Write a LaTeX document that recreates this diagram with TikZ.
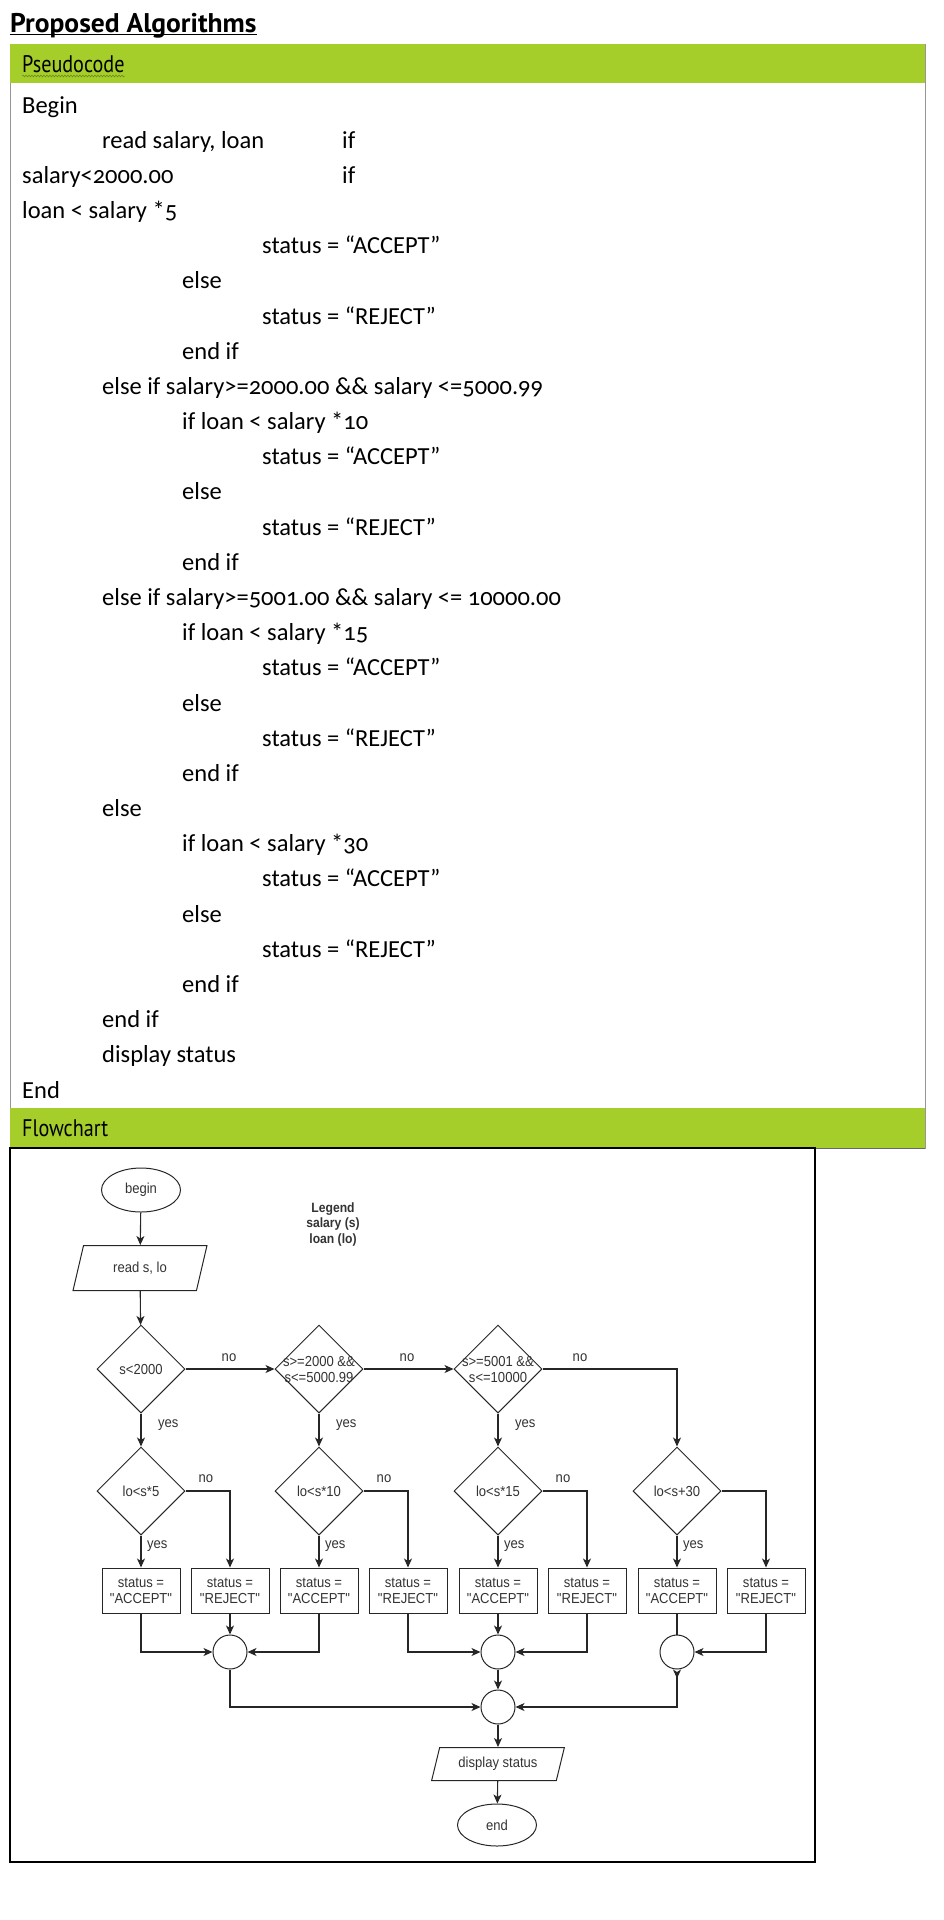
\documentclass[tikz,border=0pt]{standalone}
\usepackage{fontspec}
\usetikzlibrary{arrows.meta,shapes.geometric,decorations.pathmorphing}
\newfontfamily\codefont[Numbers=OldStyle]{Carlito}
\newfontfamily\headfont[FakeStretch=0.84]{PT Sans}
\newfontfamily\titlefont[FakeStretch=1.02]{PT Sans}
\newfontfamily\flowfont[FakeStretch=0.9]{Liberation Sans}
\definecolor{barGreen}{RGB}{166,206,42}
\definecolor{ruleGray}{RGB}{150,150,150}
\definecolor{inkGray}{RGB}{51,51,51}
\definecolor{spellOlive}{RGB}{110,140,30}

\begin{document}
\begin{tikzpicture}[
  x=1pt, y=-1pt, >={Stealth[length=9pt,width=8pt,inset=2.5pt]},
  code/.style={anchor=base west, inner sep=0pt, font=\codefont\fontsize{24.5}{29}\selectfont},
  head/.style={anchor=base west, inner sep=0pt, font=\headfont\fontsize{24}{28}\selectfont},
  flowtext/.style={font=\flowfont\fontsize{14.5}{16}\selectfont, text=inkGray},
  terminal/.style={draw=black!85, line width=1pt, ellipse, flowtext, minimum width=79pt, minimum height=44pt, inner sep=0pt},
  inout/.style={draw=black!85, line width=1pt, trapezium, trapezium stretches=true, trapezium left angle=68, trapezium right angle=112, flowtext, inner sep=0pt},
  decision/.style={draw=black!85, line width=1pt, diamond, minimum width=88pt, minimum height=88pt, inner sep=0pt},
  statebox/.style={draw=black!85, line width=1pt, flowtext, align=center, minimum width=78pt, minimum height=45pt, inner sep=0pt},
  junction/.style={draw=black!85, line width=1pt, circle, minimum size=34pt, inner sep=0pt},
  tag/.style={flowtext, inner sep=0pt},
  link/.style={->, black!85, line width=1.1pt},
  every label/.style={flowtext, align=center, inner sep=0pt},
]
\useasboundingbox (0,0) rectangle (944,1920);
% title
\node[anchor=base west, inner sep=0pt, font=\titlefont\bfseries\fontsize{27}{31}\selectfont] (title) at (10,32) {Proposed Algorithms};
\draw[line width=1.3pt] ([yshift=-2.5pt]title.base west) -- ([yshift=-2.5pt]title.base east);
% table frame and green bars
\draw[ruleGray, line width=1pt] (10,44) rectangle (925,1148);
\fill[barGreen] (10,44) rectangle (925,83);
\fill[barGreen] (10,1108) rectangle (925,1148);
\draw[ruleGray!70!black, line width=1pt] (10,1148) -- (925,1148);
\node[head] (pseudohead) at (22,72) {Pseudocode};
\draw[spellOlive, line width=0.6pt, decorate, decoration={snake, amplitude=0.9pt, segment length=3pt}]
  ([yshift=-4pt]pseudohead.base west) -- ([yshift=-4pt]pseudohead.base east);
\node[head] (flowhead) at (22,1136) {Flowchart};
% pseudocode lines
\foreach \lvl/\txt [count=\k from 0] in {0/Begin, 1/{read salary, loan}, 0/salary<2000.00, 0/loan < salary *5,
    3/status = “ACCEPT”, 2/else, 3/status = “REJECT”, 2/end if,
    1/else if salary>=2000.00 \&\& salary <=5000.99, 2/if loan < salary *10,
    3/status = “ACCEPT”, 2/else, 3/status = “REJECT”, 2/end if,
    1/else if salary>=5001.00 \&\& salary <= 10000.00, 2/if loan < salary *15,
    3/status = “ACCEPT”, 2/else, 3/status = “REJECT”, 2/end if,
    1/else, 2/if loan < salary *30,
    3/status = “ACCEPT”, 2/else, 3/status = “REJECT”, 2/end if,
    1/end if, 1/display status, 0/End}
  \node[code] (ln\k) at ({22+80*\lvl},{113+35.18*\k}) {\txt};
\node[code] (if1) at (342,148.18) {if};
\node[code] (if2) at (342,183.36) {if};
% flowchart frame
\draw[black, line width=1.2pt] (10,1148) rectangle (815,1862);
% flowchart
\node[terminal] (start) at (141,1190) {begin};
\node[flowtext, align=center, font=\flowfont\bfseries\fontsize{13.5}{15.5}\selectfont] (legend) at (333,1224) {Legend\\salary (s)\\loan (lo)};
\node[inout, minimum width=134pt, minimum height=45pt] (read) at (140,1268) {read s, lo};
\node[decision, label={center:{s<2000}}] (d1) at (141,1369) {};
\node[decision, label={center:{s>=2000 \&\&\\s<=5000.99}}] (d2) at (319,1369) {};
\node[decision, label={center:{s>=5001 \&\&\\s<=10000}}] (d3) at (498,1369) {};
\draw[link] (start) -- (read);
\draw[link] (read) -- (d1);
\draw[link] (d1) -- (d2);
\draw[link] (d2) -- (d3);
\node[tag] (no1) at (229,1358) {no};
\node[tag] (no2) at (407,1358) {no};
\node[tag] (no3) at (580,1358) {no};
% second tests, accept / reject
\foreach \col/\cond [count=\i] in {141/{lo<s*5}, 319/{lo<s*10}, 498/{lo<s*15}, 677/{lo<s+30}} {
  \node[decision, label={center:\cond}] (e\i) at (\col,1491) {};
  \node[statebox] (acc\i) at (\col,1590.5) {status =\\"ACCEPT"};
  \node[statebox] (rej\i) at ({\col+89},1590.5) {status =\\"REJECT"};
  \draw[link] (e\i) -- (acc\i);
  \draw[link] (e\i.east) -| (rej\i.north);
  \node[tag, anchor=west] (yesb\i) at ({\col+6},1546) {yes};
}
\draw[link] (d3.east) -| (e4.north);
\draw[link] (d1) -- (e1);
\draw[link] (d2) -- (e2);
\draw[link] (d3) -- (e3);
\foreach \col [count=\i] in {141,319,498} {
  \node[tag, anchor=west] (yesa\i) at ({\col+17},1425) {yes};
  \node[tag] (nob\i) at ({\col+65},1479) {no};
}
% merging
\node[junction] (j1) at (230,1652) {};
\node[junction] (j2) at (498,1652) {};
\node[junction] (j3) at (677,1652) {};
\node[junction] (jf) at (498,1707) {};
\draw[link] (acc1.south) |- (j1.west);
\draw[link] (rej1) -- (j1);
\draw[link] (acc2.south) |- (j1.east);
\draw[link] (rej2.south) |- (j2.west);
\draw[link] (acc3) -- (j2);
\draw[link] (rej3.south) |- (j2.east);
\draw[black!85, line width=1.1pt] (acc4) -- (j3);
\draw[link] (rej4.south) |- (j3.east);
\draw[link] (j1.south) |- (jf.west);
\draw[link] (j2) -- (jf);
\draw[link, {Stealth[reversed,length=9pt,width=8pt,inset=2.5pt]}->] (j3.south) |- (jf.east);
\node[inout, minimum width=133pt, minimum height=33pt] (disp) at (498,1764) {display status};
\node[terminal, minimum height=42pt] (stop) at (497,1825) {end};
\draw[link] (jf) -- (disp);
\draw[link] (disp) -- (stop);
\end{tikzpicture}
\end{document}
